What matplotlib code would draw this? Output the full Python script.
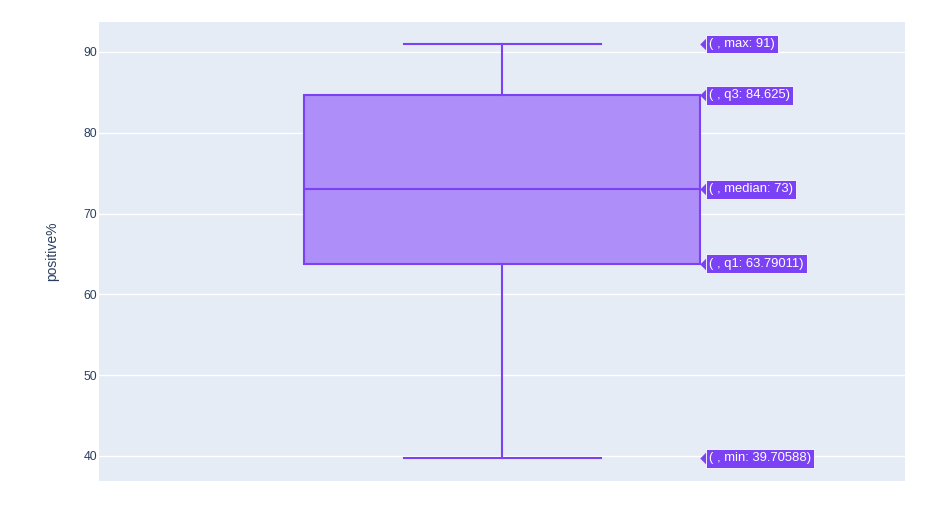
import matplotlib
matplotlib.use("Agg")
import matplotlib.pyplot as plt
import matplotlib.transforms as mtrans

plt.rcParams["font.family"] = ["Liberation Sans", "DejaVu Sans"]

stat_names = ["max", "q3", "median", "q1", "min"]
stat_labels = ["91", "84.625", "73", "63.79011", "39.70588"]
stat_values = [91, 84.625, 73, 63.79011, 39.70588]
y_ticks = [40, 50, 60, 70, 80, 90]

line_color = "#7A42F4"
fill_color = "#AE8EF8"
text_color = "#2a3f5f"

fig = plt.figure(figsize=(9.29, 5.16), dpi=100)
ax = fig.add_axes([99/929, 1-481/516, (905-99)/929, (481-22)/516])
ax.set_facecolor("#E5ECF6")

stats = [{
    "whishi": stat_values[0], "q3": stat_values[1], "med": stat_values[2],
    "q1": stat_values[3], "whislo": stat_values[4], "fliers": [],
}]
half = 198/403
lw = 1.5
ax.bxp(stats, positions=[0], widths=2*half, patch_artist=True, showfliers=False,
       boxprops=dict(facecolor=fill_color, edgecolor=line_color, linewidth=lw),
       medianprops=dict(color=line_color, linewidth=lw),
       whiskerprops=dict(color=line_color, linewidth=lw),
       capprops=dict(color=line_color, linewidth=lw),
       capwidths=2*98.5/403, zorder=3)

ax.set_xlim(-1, 1)
ax.set_ylim(36.9, 93.7)
ax.set_yticks(y_ticks)
ax.set_xticks([])
ax.grid(axis="y", color="white", linewidth=1.0)
ax.set_axisbelow(True)
for s in ax.spines.values():
    s.set_visible(False)
ax.tick_params(axis="y", length=0, pad=1.5, labelsize=8.8, labelcolor=text_color)
ax.set_ylabel("positive%", fontsize=10, color=text_color, labelpad=17)

tri_marker = [(-1, 0), (0, 1), (0, -1), (-1, 0)]
tri_tr = mtrans.offset_copy(ax.transData, fig=fig, x=6, y=0, units="dots")
txt_tr = mtrans.offset_copy(ax.transData, fig=fig, x=9, y=0, units="dots")
for name, lab, v in zip(stat_names, stat_labels, stat_values):
    ax.plot([half], [v], marker=tri_marker, markersize=9, color=line_color,
            markeredgewidth=0, transform=tri_tr, clip_on=False, zorder=5)
    ax.text(half, v, f"( , {name}: {lab})", transform=txt_tr, fontsize=9.4,
            color="white", va="center", ha="left", zorder=6, clip_on=False,
            bbox=dict(boxstyle="square,pad=0.25", facecolor=line_color,
                      edgecolor="white", linewidth=0.6))

fig.savefig("out.png", dpi=100, facecolor="white")
